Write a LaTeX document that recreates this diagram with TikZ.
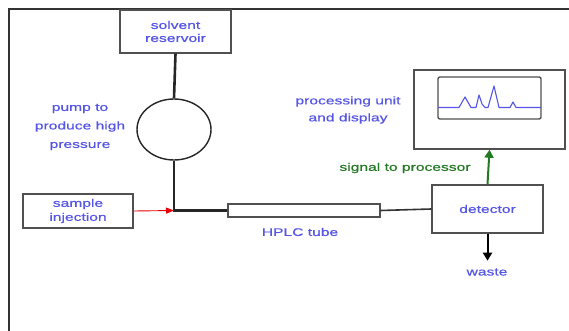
\documentclass[tikz,border=0pt]{standalone}
\usepackage{fontspec}
\setmainfont[FakeStretch=1.42,FakeBold=0.6]{Liberation Sans}
\usetikzlibrary{arrows.meta,shapes.geometric}
\definecolor{lbl}{RGB}{85,85,230}
\definecolor{grn}{RGB}{35,120,35}
\definecolor{edge}{RGB}{80,80,80}
\begin{document}
\begin{tikzpicture}[x=1pt,y=-1pt,
  box/.style={draw=edge,line width=1.4pt,fill=white,inner sep=0pt,align=center,text=lbl},
  txt/.style={text=lbl,align=center,inner sep=0pt},
  pipe/.style={line width=2.6pt,draw=black!85},
  every node/.style={font=\fontsize{11}{13}\selectfont}]
\useasboundingbox (0,0) rectangle (569,331);
% frame
\draw[line width=2.2pt,black!80] (9,331) -- (9,9) -- (569,9);
% nodes
\node[box,minimum width=111pt,minimum height=43pt,font=\fontsize{11}{13}\selectfont] (res) at (175.5,31.5) {solvent\\reservoir};
\node[draw=black!85,line width=1.4pt,ellipse,minimum width=74pt,minimum height=61pt,inner sep=0pt] (pump) at (174,129.5) {};
\node[txt,font=\fontsize{11}{18.5}\selectfont] (pumplbl) at (80,127) {pump to\\produce high\\pressure};
\coordinate (junc) at (174,210.5);
\node[box,minimum width=152pt,minimum height=13pt] (tube) at (304,210.5) {};
\node[txt] (tubelbl) at (300,232) {HPLC tube};
\node[box,minimum width=110pt,minimum height=34pt,font=\fontsize{11}{14}\selectfont] (sample) at (78,211) {sample\\injection};
\node[box,minimum width=111pt,minimum height=48pt] (det) at (487.5,209) {detector};
\node[txt] (waste) at (487,272) {waste};
\node[draw=edge,line width=1.4pt,minimum width=151pt,minimum height=79pt,inner sep=0pt] (proc) at (489.5,109.5) {};
\node[draw=edge,line width=1.4pt,rounded corners=2pt,minimum width=103pt,minimum height=42pt,inner sep=0pt] (screen) at (489.5,98) {};
\node[txt,font=\fontsize{11}{17}\selectfont] (proclbl) at (348,110) {processing unit\\and display};
\node[text=grn,inner sep=0pt] (siglbl) at (405,168) {signal to processor};
% connectors
\draw[pipe] (res.south) -- (pump.north);
\draw[pipe] (pump.south) -- (junc) -- (tube.west);
\draw[line width=1.6pt,black!80] (tube.east) -- (det.west);
\draw[red!90!black,line width=0.9pt,-{Triangle[length=8pt,width=6pt]}] (sample.east) -- (junc);
\draw[black,line width=2pt,-{Triangle[length=8pt,width=9pt]}] (det.south) -- ++(0,27);
\draw[grn,line width=2pt,-{Triangle[length=8pt,width=9pt]}] (det.north) -- (proc.south);
% chromatogram trace
\draw[lbl,line width=1.1pt,line join=round] (438,107.5) -- (459,107.5) -- (465,97) -- (471,107.5) -- (476,107.5) -- (479,95) -- (482,104) -- (485,107.5) -- (488,107.5) -- (494,86) -- (499,107.5) -- (510,107.5) -- (513,102) -- (516,107.5) -- (541,107.5);
\end{tikzpicture}
\end{document}
